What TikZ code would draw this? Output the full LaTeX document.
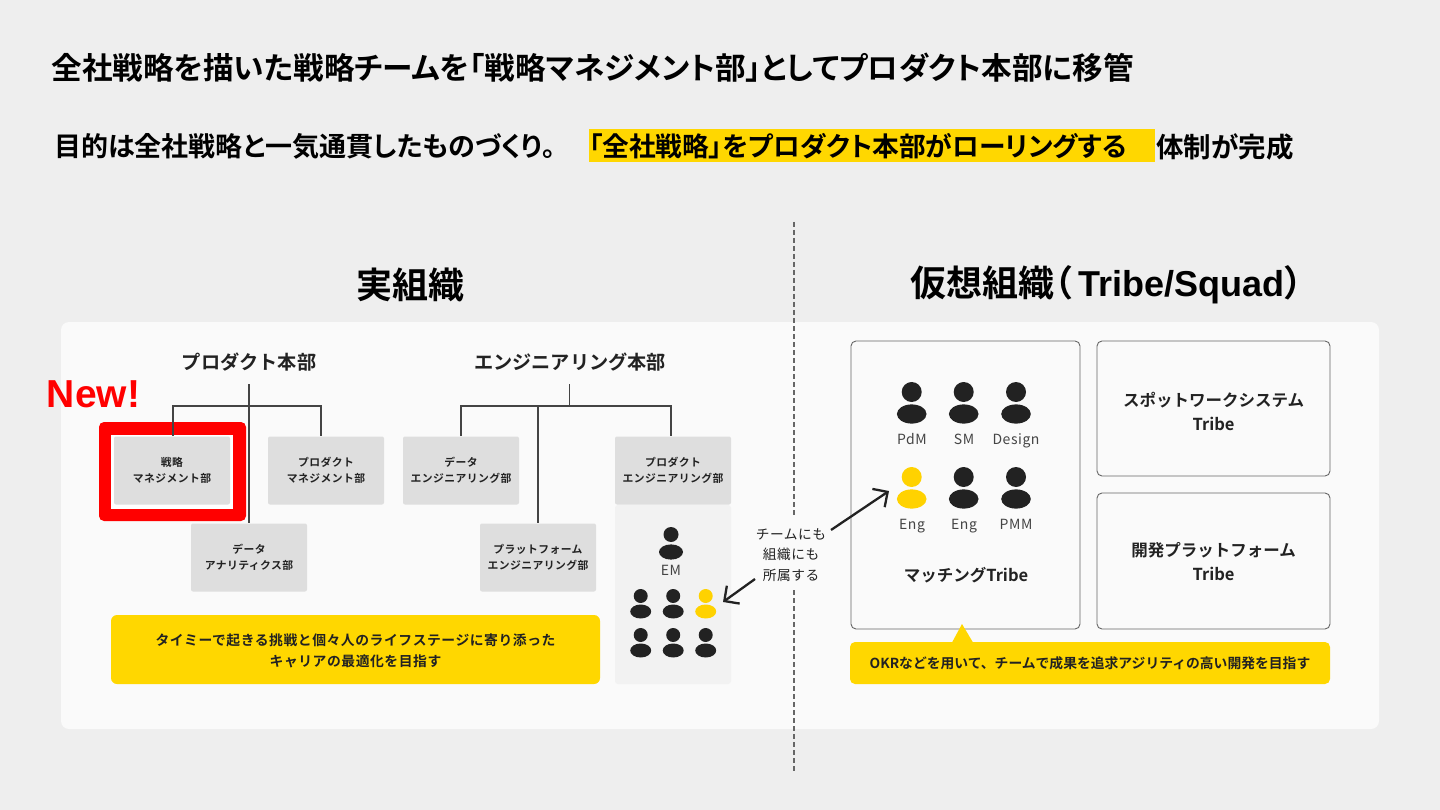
\documentclass[tikz,border=0pt]{standalone}
\usepackage{fontspec}
\usetikzlibrary{arrows.meta}
\setmainfont{Noto Sans CJK JP}[BoldFont={Noto Sans CJK JP Bold}]
\newfontfamily\headfont{Noto Sans CJK JP Bold}[RawFeature=+palt]
\newfontfamily\latinhead{Liberation Sans}[BoldFont={Liberation Sans Bold}]
\newfontfamily\spaced{Noto Sans CJK JP}[LetterSpace=4,BoldFont={Noto Sans CJK JP Bold}]
\definecolor{pagebg}{HTML}{EEEEEE}
\definecolor{panelbg}{HTML}{FAFAFA}
\definecolor{greybox}{HTML}{DEDEDE}
\definecolor{palebox}{HTML}{F2F2F2}
\definecolor{ink}{HTML}{222222}
\definecolor{linec}{HTML}{444444}
\definecolor{tickc}{HTML}{666666}
\definecolor{yel}{HTML}{FFD700}
\definecolor{peryel}{HTML}{FFD200}
\definecolor{redc}{HTML}{FF0000}
\tikzset{
  x=1pt,y=-1pt,
  org/.style={line width=1.5pt,draw=linec},
  dept/.style={fill=greybox,rounded corners=2pt,inner sep=0pt,align=center,text=ink,minimum width=116pt,minimum height=68pt,font=\fontsize{10.8}{16}\selectfont\spaced\bfseries},
  yelbox/.style={fill=yel,rounded corners=6pt,inner sep=0pt,align=center,text=ink},
  htext/.style={inner sep=0pt,anchor=west,text=black},
  orghead/.style={inner sep=0pt,text=ink,font=\fontsize{19.2}{22}\selectfont\bfseries},
  tribetext/.style={inner sep=0pt,align=center,text=ink,font=\fontsize{16.5}{24}\selectfont\bfseries},
  tribebox/.style={draw=tickc,line width=.9pt,fill=panelbg,rounded corners=5pt},
  role/.style={inner sep=0pt,text=linec,text height=11pt,text depth=3pt,font=\fontsize{14}{16}\selectfont\spaced},
  note/.style={inner sep=0pt,align=center,text=ink,font=\fontsize{13.7}{20.5}\selectfont\spaced},
  arr/.style={line width=2.3pt,draw=ink,-{Straight Barb[length=11pt,width=22pt,line width=2.3pt]}},
}
\newcommand{\bigperson}[3]{\fill[#3] (#1,#2) circle[radius=10];\fill[#3] (#1,#2+22) ellipse[x radius=14.8,y radius=9.6];}
\newcommand{\midperson}[3]{\fill[#3] (#1,#2) circle[radius=7.5];\fill[#3] (#1,#2+17.5) ellipse[x radius=12,y radius=7.6];}
\newcommand{\smallperson}[3]{\fill[#3] (#1,#2) circle[radius=7];\fill[#3] (#1,#2+15.5) ellipse[x radius=10.5,y radius=7];}
\newcommand{\depttext}[2]{\raisebox{-1pt}{\parbox{116pt}{\centering\baselineskip=16pt #1\\#2}}}
\begin{document}
\begin{tikzpicture}
\useasboundingbox (0,0) rectangle (1440,810);
\fill[pagebg] (0,0) rectangle (1440,810);
% headline
\node[htext,font=\fontsize{30.6}{36}\selectfont\headfont] (title) at (51.5,67.5) {全社戦略を描いた戦略チームを「戦略マネジメント部」としてプロダクト本部に移管};
\fill[yel] (589,129) rectangle (1155,162);
\node[htext,font=\fontsize{27}{32}\selectfont\headfont] (sub1) at (54,146.5) {目的は全社戦略と一気通貫したものづくり。};
\node[htext,font=\fontsize{26.7}{32}\selectfont\headfont] (sub2) at (589,146.5) {「全社戦略」をプロダクト本部がローリングする};
\node[htext,font=\fontsize{27.5}{32}\selectfont\headfont] (sub3) at (1156,146.5) {体制が完成};
\node[inner sep=0pt,text=black,font=\fontsize{36}{40}\selectfont\headfont] (real) at (410,284.5) {実組織};
\node[inner sep=0pt,text=black,anchor=west,font=\fontsize{36}{40}\selectfont\headfont] (virt) at (910,284.5) {仮想組織（\hspace{6pt}{\latinhead\bfseries Tribe/Squad}\hspace{1pt}）};
% panel
\fill[panelbg,rounded corners=8pt] (61,322) rectangle (1379,729);
% centre divider
\coordinate (divtop) at (794,222);
\coordinate (divbot) at (794,773);
\draw[tickc,line width=1.5pt,dash pattern=on 5pt off 3pt] (divtop) -- (divbot);
\fill[panelbg] (750,517) rectangle (832,590);
% red highlight
\fill[redc,rounded corners=5pt] (99,422) rectangle (246,521);
\fill[white] (111,435) rectangle (233,509);
% departments
\node[dept] (d1) at (172,470.5) {\depttext{戦略}{マネジメント部}};
\node[dept] (d2) at (326,470.5) {\depttext{プロダクト}{マネジメント部}};
\node[dept] (d3) at (249,557.5) {\depttext{データ}{アナリティクス部}};
\node[dept] (e1) at (461,470.5) {\depttext{データ}{エンジニアリング部}};
\node[dept] (e2) at (538,557.5) {\depttext{プラットフォーム}{エンジニアリング部}};
\fill[palebox,rounded corners=3pt] (615,505) rectangle (731,684);
\node[dept] (e3) at (673,470.5) {\depttext{プロダクト}{エンジニアリング部}};
% org headings
\node[orghead] (hq1) at (249,362) {プロダクト本部};
\node[orghead] (hq2) at (570,362) {エンジニアリング本部};
% org lines
\coordinate (t1) at (249,384);
\coordinate (j1) at (249,406);
\coordinate (a1) at (173,436);
\coordinate (a2) at (321,436);
\draw[org] (a1) |- (j1) -| (a2);
\draw[org] (t1) -- (d3.north);
\coordinate (t2) at (569.5,384);
\coordinate (j2) at (569.5,406);
\coordinate (b1) at (461,436);
\coordinate (b2) at (671,436);
\draw[org] (b1) |- (j2) -| (b2);
\draw[org] (t2) -- (j2);
\draw[org] (e2.north |- j2) -- (e2.north);
% yellow messages
\node[yelbox,minimum width=489pt,minimum height=69pt] (msg1) at (355.5,649.5) {};
\node[inner sep=0pt,align=center,text=ink,font=\fontsize{13.8}{21.5}\selectfont\spaced\bfseries] (msg1t) at (355.5,651) {タイミーで起きる挑戦と個々人のライフステージに寄り添った\\キャリアの最適化を目指す};
% people in engineering
\midperson{671}{534.5}{ink}
\node[role] (em) at (671,571) {EM};
\smallperson{640.7}{596}{ink}
\smallperson{673.2}{596}{ink}
\smallperson{705.7}{596}{peryel}
\smallperson{640.7}{635}{ink}
\smallperson{673.2}{635}{ink}
\smallperson{705.7}{635}{ink}
% tribes
\draw[tribebox] (851,341) rectangle (1080,629);
\draw[tribebox] (1097,341) rectangle (1330,476);
\draw[tribebox] (1097,493) rectangle (1330,629);
\node[tribetext] (t2box) at (1213.5,411.5) {スポットワークシステム\\Tribe};
\node[tribetext] (t3box) at (1213.5,561.5) {開発プラットフォーム\\Tribe};
\bigperson{911.7}{392}{ink}
\bigperson{963.7}{392}{ink}
\bigperson{1016}{392}{ink}
\bigperson{911.7}{477}{peryel}
\bigperson{963.7}{477}{ink}
\bigperson{1016}{477}{ink}
\node[role] (r1) at (912,440) {PdM};
\node[role] (r2) at (964,440) {SM};
\node[role] (r3) at (1016,440) {Design};
\node[role] (r4) at (912,525.5) {Eng};
\node[role] (r5) at (964,525.5) {Eng};
\node[role] (r6) at (1016,525.5) {PMM};
\node[tribetext] (mt) at (966,575.5) {マッチングTribe};
\fill[yel] (952,642.5) -- (962,624) -- (973,642.5) -- cycle;
\node[yelbox,rounded corners=5pt,minimum width=480pt,minimum height=42pt,font=\fontsize{13.8}{16}\selectfont\bfseries] (msg2) at (1090,663) {OKRなどを用いて、チームで成果を追求アジリティの高い開発を目指す};
% note + arrows
\node[note] (nt) at (791,555) {チームにも\\組織にも\\所属する};
\coordinate (p1) at (723,602);
\coordinate (p2) at (889,491);
\coordinate (n1) at (755,579);
\coordinate (n2) at (831,530);
\draw[arr] (n1) -- (p1);
\draw[arr] (n2) -- (p2);
% New
\node[inner sep=0pt,text=redc,font=\fontsize{39}{42}\selectfont\latinhead\bfseries] (new) at (93.5,394) {New!};
\end{tikzpicture}
\end{document}
